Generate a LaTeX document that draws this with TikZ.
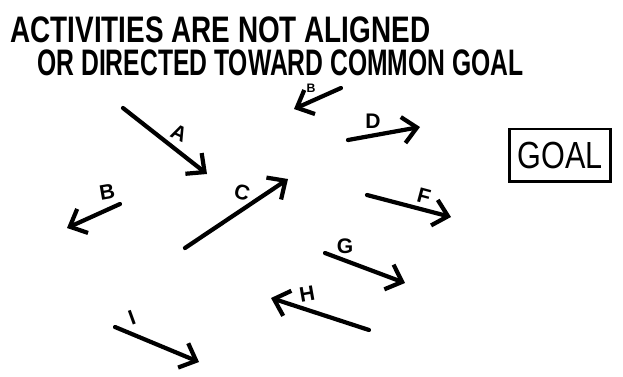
\documentclass[tikz,border=0pt]{standalone}
\usepackage{fontspec}
\setmainfont{Liberation Sans}
\usetikzlibrary{arrows.meta}
\begin{document}
\begin{tikzpicture}[x=0.02cm, y=-0.02cm,
    activite/.style={line width=2.4pt, line cap=round, -{Straight Barb[length=8pt, width=15pt]}},
    lettre/.style={font=\fontsize{12}{12}\selectfont\bfseries, inner sep=0pt},
    titre/.style={font=\fontsize{21}{21}\selectfont\bfseries, inner sep=0pt, anchor=base west}]
            \useasboundingbox (0, 0) rectangle (623, 376);

            % titre
            \node[titre] (t1) at (10, 42) {\scalebox{0.756}[1]{ACTIVITIES ARE NOT ALIGNED}};
            \node[titre] (t2) at (37, 75) {\scalebox{0.669}[1]{OR DIRECTED TOWARD COMMON GOAL}};

            % le but
            \node[draw, line width=1.7pt, minimum width=58pt, minimum height=29.6pt, inner sep=0pt,
                  font=\fontsize{21.5}{21.5}\selectfont] (goal) at (560, 155) {\scalebox{0.81}[1]{GOAL}};

            % les activites
            \coordinate (a0) at (123, 108); \coordinate (a1) at (207, 174);
            \coordinate (b0) at (120, 204); \coordinate (b1) at (67, 228);
            \coordinate (c0) at (185, 248); \coordinate (c1) at (288, 179);
            \coordinate (e0) at (341, 88);  \coordinate (e1) at (294, 109);
            \coordinate (d0) at (348, 140); \coordinate (d1) at (420, 127);
            \coordinate (f0) at (367, 195); \coordinate (f1) at (451, 217);
            \coordinate (g0) at (325, 253); \coordinate (g1) at (405, 283);
            \coordinate (h0) at (369, 330); \coordinate (h1) at (271, 298);
            \coordinate (i0) at (115, 327); \coordinate (i1) at (199, 362);

            \draw[activite] (a0) to (a1);
            \draw[activite] (b0) to (b1);
            \draw[activite] (c0) to (c1);
            \draw[activite] (e0) to (e1);
            \draw[activite] (d0) to (d1);
            \draw[activite] (f0) to (f1);
            \draw[activite] (g0) to (g1);
            \draw[activite] (h0) to (h1);
            \draw[activite] (i0) to (i1);

            % les lettres
            \node[lettre, rotate=-25] (la) at (179, 133) {A};
            \node[lettre, rotate=10] (lb) at (107, 192) {B};
            \node[lettre, rotate=-15] (lc) at (242, 192) {C};
            \node[lettre, font=\fontsize{7}{7}\selectfont\bfseries] (le) at (311, 88) {B};
            \node[lettre] (ld) at (373, 121) {D};
            \node[lettre, rotate=-15] (lf) at (424, 196) {F};
            \node[lettre] (lg) at (345, 246) {G};
            \node[lettre, rotate=10] (lh) at (307, 294) {H};
            \node[lettre, rotate=20] (li) at (132, 318) {I};
        \end{tikzpicture}
\end{document}
